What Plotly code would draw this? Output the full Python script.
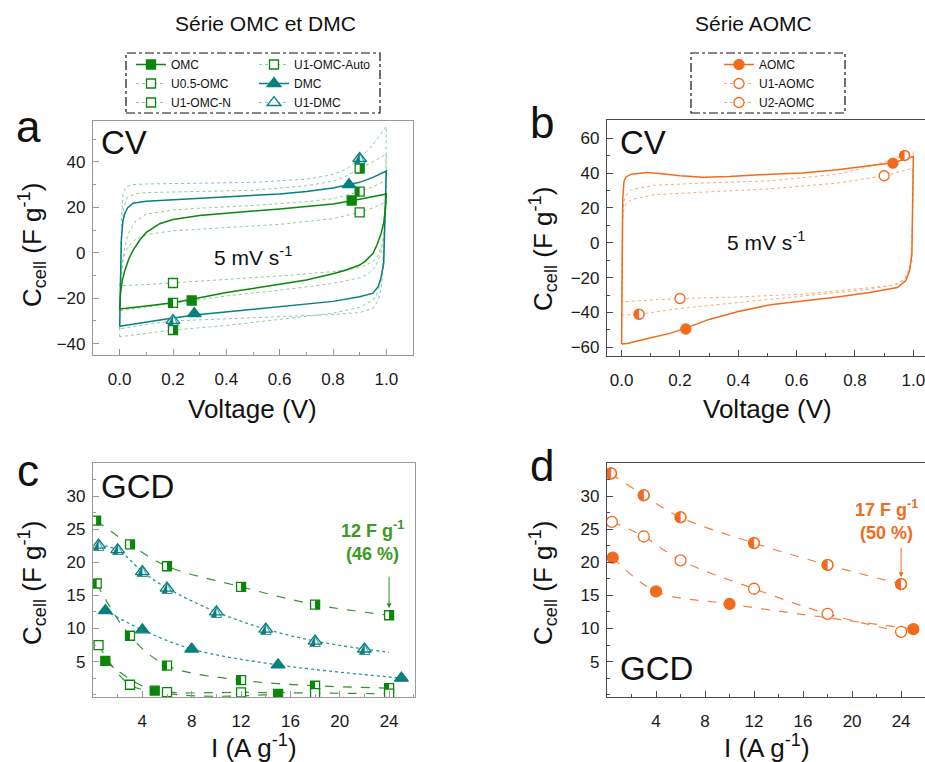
import plotly.graph_objects as go

W, H = 925, 762

# ---------------- Panel a : CV, OMC / DMC series (V vs F g-1) ----------------
OMC_UP_V = [0, 0.003, 0.01, 0.02, 0.035, 0.05, 0.075, 0.1, 0.15, 0.2, 0.3, 0.4, 0.5, 0.6, 0.7, 0.8, 0.9, 1.0]
OMC_UP_C = [-24.8, -18.0, -12.0, -7.6, -2.5, 1.1, 5.5, 9.0, 12.8, 14.6, 16.4, 17.5, 18.4, 19.3, 20.3, 21.5, 23.6, 25.9]
OMC_DN_V = [1.0, 0.997, 0.99, 0.98, 0.965, 0.95, 0.92, 0.9, 0.85, 0.8, 0.7, 0.6, 0.5, 0.4, 0.3, 0.2, 0.1, 0.0]
OMC_DN_C = [25.9, 20.0, 13.0, 8.4, 3.5, -0.3, -3.8, -5.4, -7.6, -9.2, -12.0, -13.9, -15.6, -17.5, -19.8, -22.0, -23.4, -24.8]

DMC_UP_V = [0, 0.002, 0.006, 0.012, 0.02, 0.03, 0.05, 0.1, 0.2, 0.3, 0.4, 0.5, 0.6, 0.7, 0.8, 0.9, 0.95, 1.0]
DMC_UP_C = [-32.3, -15.0, 5.0, 14.0, 17.5, 19.8, 21.8, 22.7, 23.3, 23.8, 24.4, 25.1, 25.9, 27.0, 28.5, 31.0, 33.2, 36.0]
DMC_DN_V = [1.0, 0.998, 0.995, 0.99, 0.98, 0.97, 0.95, 0.9, 0.8, 0.7, 0.6, 0.5, 0.4, 0.3, 0.2, 0.1, 0.0]
DMC_DN_C = [36.0, 25.0, 10.0, -4.7, -11.0, -14.8, -17.8, -19.4, -21.4, -22.5, -23.6, -24.8, -26.0, -27.2, -28.7, -30.5, -32.3]

U1DMC_UP_V = [0, 0.003, 0.007, 0.0125, 0.025, 0.05, 0.1, 0.3, 0.5, 0.7, 0.8, 0.85, 0.9, 0.95, 1.0]
U1DMC_UP_C = [-33.5, -10.0, 15.0, 26.0, 29.0, 30.0, 30.3, 30.6, 31.0, 32.4, 34.4, 36.8, 41.5, 47.5, 55.7]
U1DMC_DN_V = [1.0, 0.998, 0.995, 0.99, 0.98, 0.97, 0.95, 0.9, 0.8, 0.6, 0.4, 0.2, 0.1, 0.0]
U1DMC_DN_C = [55.7, 35.0, 15.0, -5.0, -16.0, -21.0, -24.5, -26.3, -27.2, -28.2, -29.0, -30.0, -31.5, -33.5]

AUTO_UP_V = [0, 0.003, 0.007, 0.015, 0.03, 0.06, 0.1, 0.3, 0.5, 0.7, 0.8, 0.85, 0.9, 0.95, 1.0]
AUTO_UP_C = [-37.0, -12.0, 8.0, 20.0, 24.5, 26.0, 26.5, 27.0, 27.5, 29.5, 31.5, 33.8, 37.1, 40.0, 43.4]
AUTO_DN_V = [1.0, 0.997, 0.993, 0.985, 0.97, 0.95, 0.9, 0.8, 0.6, 0.4, 0.2, 0.1, 0.0]
AUTO_DN_C = [43.4, 25.0, 8.0, -8.0, -17.0, -21.0, -24.0, -26.6, -29.4, -32.0, -34.0, -35.5, -37.0]

U05_UP_V = [0, 0.005, 0.015, 0.03, 0.06, 0.1, 0.2, 0.3, 0.5, 0.7, 0.8, 0.9, 0.95, 1.0]
U05_UP_C = [-25.5, -12.0, 0.0, 8.0, 14.0, 17.0, 18.8, 19.6, 20.8, 22.5, 23.8, 26.9, 29.0, 32.0]
U05_DN_V = [1.0, 0.997, 0.99, 0.98, 0.96, 0.93, 0.9, 0.8, 0.6, 0.4, 0.2, 0.1, 0.0]
U05_DN_C = [32.0, 20.0, 8.0, 0.0, -6.0, -9.5, -11.0, -13.5, -16.5, -19.0, -22.1, -23.8, -25.5]

N_UP_V = [0, 0.005, 0.015, 0.03, 0.06, 0.1, 0.2, 0.4, 0.6, 0.8, 0.9, 0.95, 1.0]
N_UP_C = [-14.5, -8.0, -2.0, 2.5, 6.0, 8.0, 9.7, 11.0, 12.5, 15.0, 17.8, 19.8, 22.5]
N_DN_V = [1.0, 0.995, 0.985, 0.97, 0.95, 0.9, 0.8, 0.6, 0.4, 0.2, 0.1, 0.0]
N_DN_C = [22.5, 12.0, 4.0, -1.0, -4.0, -6.5, -8.3, -10.2, -11.8, -13.5, -14.0, -14.5]

# symbol positions on the CV curves (panel a)
OMC_MK_V, OMC_MK_C = [0.87, 0.27], [23.0, -21.0]
U05_MK_V, U05_MK_C = [0.9, 0.2], [26.9, -22.1]
AUTO_MK_V, AUTO_MK_C = [0.9, 0.2], [37.1, -34.0]
N_MK_V, N_MK_C = [0.9, 0.2], [17.8, -13.3]
DMC_MK_V, DMC_MK_C = [0.86, 0.28], [30.0, -26.8]
U1DMC_MK_V, U1DMC_MK_C = [0.9, 0.2], [41.5, -29.8]

# ---------------- Panel b : CV, AOMC series ----------------
AOMC_UP_V = [0, 0.001, 0.002, 0.004, 0.008, 0.015, 0.034, 0.086, 0.13, 0.2, 0.28, 0.37, 0.51, 0.62, 0.74, 0.85, 0.93, 1.0]
AOMC_UP_C = [-58.1, -30.0, 0.0, 25.0, 35.0, 37.8, 39.4, 40.3, 39.8, 38.5, 37.7, 38.0, 39.4, 40.0, 41.9, 44.4, 45.9, 49.5]
AOMC_DN_V = [1.0, 0.999, 0.998, 0.995, 0.987, 0.973, 0.945, 0.85, 0.74, 0.62, 0.51, 0.4, 0.3, 0.22, 0.166, 0.1, 0.05, 0.02, 0.0]
AOMC_DN_C = [49.5, 30.0, 10.0, -6.7, -16.2, -21.9, -25.7, -28.6, -31.1, -33.4, -35.6, -39.5, -44.0, -49.0, -52.0, -54.5, -56.5, -57.8, -58.1]

U1A_UP_V = [0, 0.001, 0.003, 0.008, 0.02, 0.034, 0.11, 0.28, 0.51, 0.74, 0.85, 0.97, 1.0]
U1A_UP_C = [-41.5, -10.0, 15.0, 24.0, 28.5, 30.5, 33.0, 34.3, 35.6, 39.4, 43.8, 50.1, 52.4]
U1A_DN_V = [1.0, 0.999, 0.997, 0.995, 0.98, 0.945, 0.85, 0.62, 0.4, 0.2, 0.06, 0.0]
U1A_DN_C = [52.4, 30.0, 5.0, -10.5, -20.0, -23.8, -26.7, -30.5, -34.3, -37.7, -41.0, -41.5]

U2A_UP_V = [0, 0.001, 0.003, 0.006, 0.015, 0.034, 0.11, 0.28, 0.51, 0.74, 0.9, 1.0]
U2A_UP_C = [-33.9, -10.0, 10.0, 18.0, 22.5, 24.8, 27.6, 29.1, 31.0, 34.3, 38.5, 42.8]
U2A_DN_V = [1.0, 0.998, 0.995, 0.99, 0.97, 0.93, 0.85, 0.62, 0.4, 0.2, 0.05, 0.0]
U2A_DN_C = [42.8, 20.0, 0.0, -13.0, -21.0, -24.5, -25.7, -29.5, -31.1, -32.0, -33.4, -33.9]

AOMC_MK_V, AOMC_MK_C = [0.93, 0.22], [45.7, -49.5]
U1A_MK_V, U1A_MK_C = [0.97, 0.06], [50.1, -41.0]
U2A_MK_V, U2A_MK_C = [0.9, 0.2], [38.5, -32.0]

# ---------------- Panel c : GCD, OMC / DMC series (A g-1 vs F g-1) ----------------
AUTO_GCD_I, AUTO_GCD_C = [0.25, 3, 6, 12, 18, 24], [26.3, 22.7, 19.4, 16.3, 13.6, 12.0]
U1DMC_GCD_I, U1DMC_GCD_C = [0.45, 2, 4, 6, 10, 14, 18, 22], [22.6, 21.9, 18.6, 16.1, 12.5, 9.9, 8.1, 6.9]
U1DMC_FIT_I, U1DMC_FIT_C = [22, 24], [6.9, 6.4]
U05_GCD_I, U05_GCD_C = [0.3, 3, 6, 12, 18, 24], [16.8, 8.9, 4.4, 2.2, 1.35, 1.0]
DMC_GCD_I, DMC_GCD_C = [1, 4, 8, 15, 25], [12.7, 9.8, 6.9, 4.5, 2.5]
N_GCD_I, N_GCD_C = [0.45, 3, 6, 12, 18, 24], [7.5, 1.5, 0.4, 0.35, 0.25, 0.15]
OMC_GCD_I, OMC_GCD_C = [1, 5, 15], [5.1, 0.6, 0.1]

# ---------------- Panel d : GCD, AOMC series ----------------
U1A_GCD_I, U1A_GCD_C = [0.33, 3, 6, 12, 18, 24], [33.4, 30.1, 26.8, 22.9, 19.6, 16.7]
U2A_GCD_I, U2A_GCD_C = [0.4, 3, 6, 12, 18, 24], [26.1, 23.9, 20.3, 16.0, 12.2, 9.5]
AOMC_GCD_I, AOMC_GCD_C = [0.47, 4, 10, 25], [20.7, 15.6, 13.7, 9.9]

V_TICKS = [0.0, 0.2, 0.4, 0.6, 0.8, 1.0]
I_TICKS = [4, 8, 12, 16, 20, 24]
GCD_C_TICKS = [5, 10, 15, 20, 25, 30]

# ---------------- styles ----------------
FONT = "Liberation Sans, Arial, sans-serif"
GREEN = "#0b860b"
GREEN_L = "#8fcc8f"
TEAL = "#07807f"
TEAL_L = "#86c2c2"
ORANGE = "#f26b1d"
ORANGE_L = "#f6ab7d"
GREEN_D = "#2f942f"
TEAL_D = "#2b9595"
ORANGE_D = "#f1823f"

fig = go.Figure()


def gapped(vals):
    out = []
    for i, v in enumerate(vals):
        if i:
            out.append(None)
        out.append(v)
    return out


def cv_line(up_v, up_c, dn_v, dn_c, color, width, dash, xa, ya):
    fig.add_trace(go.Scatter(x=up_v + dn_v, y=up_c + dn_c, mode="lines",
                             line=dict(color=color, width=width, dash=dash),
                             xaxis=xa, yaxis=ya, showlegend=False, hoverinfo="skip"))


def legend_markers(name, xs, ys, symbol, mcolor, fill, size, lcolor, lwidth, dash, xa, ya, legend):
    fig.add_trace(go.Scatter(x=gapped(xs), y=gapped(ys), mode="lines+markers", name=name,
                             line=dict(color=lcolor, width=lwidth, dash=dash),
                             marker=dict(symbol=symbol, size=size, color=fill,
                                         line=dict(color=mcolor, width=1.3)),
                             xaxis=xa, yaxis=ya, legend=legend, hoverinfo="skip"))


def markers(xs, ys, symbol, mcolor, fill, size, xa, ya, lw=1.3):
    fig.add_trace(go.Scatter(x=xs, y=ys, mode="markers",
                             marker=dict(symbol=symbol, size=size, color=fill,
                                         line=dict(color=mcolor, width=lw)),
                             xaxis=xa, yaxis=ya, showlegend=False, hoverinfo="skip"))


def half_square(xs, ys, color, size, side, xa, ya):
    # vertical bar covering one half of the square symbol
    fig.add_trace(go.Scatter(x=xs, y=ys, mode="markers",
                             marker=dict(symbol="line-ew", size=size / 1.4,
                                         angle=90 if side == "left" else -90,
                                         standoff=size / 4,
                                         line=dict(color=color, width=size / 2)),
                             xaxis=xa, yaxis=ya, showlegend=False, hoverinfo="skip"))


def glyph(xs, ys, char, color, size, xa, ya):
    fig.add_trace(go.Scatter(x=xs, y=ys, mode="text", text=[char] * len(xs),
                             textposition="middle center",
                             textfont=dict(family="DejaVu Sans", size=size, color=color),
                             xaxis=xa, yaxis=ya, showlegend=False, hoverinfo="skip"))


def gcd(xs, ys, color, dash, width, xa, ya, shape="spline"):
    fig.add_trace(go.Scatter(x=xs, y=ys, mode="lines", line=dict(color=color, width=width, dash=dash, shape=shape),
                             xaxis=xa, yaxis=ya, showlegend=False, hoverinfo="skip"))


# ===== panel a =====
cv_line(U1DMC_UP_V, U1DMC_UP_C, U1DMC_DN_V, U1DMC_DN_C, TEAL_L, 1, "dot", "x", "y")
cv_line(AUTO_UP_V, AUTO_UP_C, AUTO_DN_V, AUTO_DN_C, GREEN_L, 1, "dot", "x", "y")
cv_line(U05_UP_V, U05_UP_C, U05_DN_V, U05_DN_C, GREEN_L, 1, "dot", "x", "y")
cv_line(N_UP_V, N_UP_C, N_DN_V, N_DN_C, GREEN_L, 1, "dot", "x", "y")
cv_line(DMC_UP_V, DMC_UP_C, DMC_DN_V, DMC_DN_C, TEAL, 1.5, "solid", "x", "y")
cv_line(OMC_UP_V, OMC_UP_C, OMC_DN_V, OMC_DN_C, GREEN, 1.5, "solid", "x", "y")

legend_markers("OMC", OMC_MK_V, OMC_MK_C, "square", GREEN, GREEN, 9, GREEN, 1.5, "solid", "x", "y", "legend")
legend_markers("U0.5-OMC", U05_MK_V, U05_MK_C, "square", GREEN, "white", 9, GREEN_L, 1, "dot", "x", "y", "legend")
half_square(U05_MK_V, U05_MK_C, GREEN, 9, "left", "x", "y")
legend_markers("U1-OMC-N", N_MK_V, N_MK_C, "square", GREEN, "white", 9, GREEN_L, 1, "dot", "x", "y", "legend")
legend_markers("U1-OMC-Auto", AUTO_MK_V, AUTO_MK_C, "square", GREEN, "white", 9, GREEN_L, 1, "dot", "x", "y", "legend2")
half_square(AUTO_MK_V, AUTO_MK_C, GREEN, 9, "right", "x", "y")
legend_markers("DMC", DMC_MK_V, DMC_MK_C, "triangle-up", TEAL, TEAL, 12, TEAL, 1.5, "solid", "x", "y", "legend2")
legend_markers("U1-DMC", U1DMC_MK_V, U1DMC_MK_C, "triangle-up", TEAL, "white", 12, TEAL_L, 1, "dot", "x", "y", "legend2")
glyph(U1DMC_MK_V, U1DMC_MK_C, "\u25ed", TEAL, 15, "x", "y")

# ===== panel b =====
cv_line(U1A_UP_V, U1A_UP_C, U1A_DN_V, U1A_DN_C, ORANGE_L, 1, "dot", "x2", "y2")
cv_line(U2A_UP_V, U2A_UP_C, U2A_DN_V, U2A_DN_C, ORANGE_L, 1, "dot", "x2", "y2")
cv_line(AOMC_UP_V, AOMC_UP_C, AOMC_DN_V, AOMC_DN_C, ORANGE, 1.5, "solid", "x2", "y2")
legend_markers("AOMC", AOMC_MK_V, AOMC_MK_C, "circle", ORANGE, ORANGE, 10, ORANGE, 1.5, "solid", "x2", "y2", "legend3")
legend_markers("U1-AOMC", U1A_MK_V, U1A_MK_C, "circle", ORANGE, "white", 10, ORANGE_L, 1, "dot", "x2", "y2", "legend3")
glyph(U1A_MK_V, U1A_MK_C, "\u25d0", ORANGE, 14, "x2", "y2")
legend_markers("U2-AOMC", U2A_MK_V, U2A_MK_C, "circle", ORANGE, "white", 10, ORANGE_L, 1, "dot", "x2", "y2", "legend3")

# ===== panel c =====
gcd(AUTO_GCD_I, AUTO_GCD_C, GREEN_D, "dash", 1.2, "x3", "y3")
gcd(U1DMC_GCD_I, U1DMC_GCD_C, TEAL_D, "dot", 1.3, "x3", "y3")
gcd(U1DMC_FIT_I, U1DMC_FIT_C, TEAL_D, "dot", 1.3, "x3", "y3")
gcd(U05_GCD_I, U05_GCD_C, GREEN_D, "dash", 1.2, "x3", "y3")
gcd(DMC_GCD_I, DMC_GCD_C, TEAL_D, "dot", 1.3, "x3", "y3")
gcd(N_GCD_I, N_GCD_C, GREEN_D, "dash", 1.2, "x3", "y3")
gcd(OMC_GCD_I, OMC_GCD_C, GREEN_D, "dash", 1.2, "x3", "y3")

markers(AUTO_GCD_I, AUTO_GCD_C, "square", GREEN, "white", 9, "x3", "y3")
half_square(AUTO_GCD_I, AUTO_GCD_C, GREEN, 9, "right", "x3", "y3")
markers(U05_GCD_I, U05_GCD_C, "square", GREEN, "white", 9, "x3", "y3")
half_square(U05_GCD_I, U05_GCD_C, GREEN, 9, "left", "x3", "y3")
markers(N_GCD_I, N_GCD_C, "square", GREEN, "white", 9, "x3", "y3")
markers(OMC_GCD_I, OMC_GCD_C, "square", GREEN, GREEN, 9, "x3", "y3")
markers(U1DMC_GCD_I, U1DMC_GCD_C, "triangle-up", TEAL, "white", 12, "x3", "y3")
glyph(U1DMC_GCD_I, U1DMC_GCD_C, "\u25ed", TEAL, 15, "x3", "y3")
markers(DMC_GCD_I, DMC_GCD_C, "triangle-up", TEAL, TEAL, 12, "x3", "y3")

# ===== panel d =====
gcd(U1A_GCD_I, U1A_GCD_C, ORANGE_D, "dash", 1.2, "x4", "y4")
gcd(U2A_GCD_I, U2A_GCD_C, ORANGE_D, "dash", 1.2, "x4", "y4")
gcd(AOMC_GCD_I, AOMC_GCD_C, ORANGE_D, "dash", 1.2, "x4", "y4")
markers(U1A_GCD_I, U1A_GCD_C, "circle", ORANGE, "white", 11, "x4", "y4")
glyph(U1A_GCD_I, U1A_GCD_C, "\u25d0", ORANGE, 15, "x4", "y4")
markers(U2A_GCD_I, U2A_GCD_C, "circle", ORANGE, "white", 11, "x4", "y4")
markers(AOMC_GCD_I, AOMC_GCD_C, "circle", ORANGE, ORANGE, 11, "x4", "y4")


# ---------------- axes ----------------
def dom_x(p0, p1):
    return [p0 / W, p1 / W]


def dom_y(top, bot):
    return [1 - bot / H, 1 - top / H]


def axis(dom, rng, color, anchor, dtick=None, minor_dtick=None, tickvals=None, fmt=None):
    d = dict(domain=dom, range=rng, anchor=anchor, showline=True, linecolor=color, linewidth=1.2,
             mirror=True, ticks="inside", ticklen=6, tickwidth=1, tickcolor=color,
             minor=dict(ticks="inside", ticklen=3, tickwidth=1, tickcolor=color, dtick=minor_dtick, tick0=0),
             showgrid=False, zeroline=False, ticklabeloverflow="allow",
             tickfont=dict(family=FONT, size=17, color="#1a1a1a"))
    if tickvals is not None:
        d.update(tickmode="array", tickvals=tickvals)
    else:
        d.update(dtick=dtick, tick0=0)
    if fmt:
        d["tickformat"] = fmt
    return d


GRAY_A = "#9a9a9a"
GRAY_B = "#4a4a4a"

fig.update_layout(
    xaxis=axis(dom_x(93, 413), [-0.1, 1.1], GRAY_A, "y", tickvals=V_TICKS, minor_dtick=0.1, fmt=".1f"),
    yaxis=axis(dom_y(121, 355), [-45, 58], GRAY_A, "x", dtick=20, minor_dtick=10),
    xaxis2=axis(dom_x(607, 925), [-0.05, 1.04], GRAY_B, "y2", tickvals=V_TICKS, minor_dtick=0.1, fmt=".1f"),
    yaxis2=axis(dom_y(120, 356), [-65, 70.5], GRAY_B, "x2", dtick=20, minor_dtick=10),
    xaxis3=axis(dom_x(93, 415), [0, 26.1], GRAY_A, "y3", tickvals=I_TICKS, minor_dtick=2),
    yaxis3=axis(dom_y(463, 697), [-0.35, 35], GRAY_A, "x3", tickvals=GCD_C_TICKS, minor_dtick=2.5),
    xaxis4=axis(dom_x(607, 925), [0, 25.95], GRAY_B, "y4", tickvals=I_TICKS, minor_dtick=2),
    yaxis4=axis(dom_y(463, 697), [-0.35, 35], GRAY_B, "x4", tickvals=GCD_C_TICKS, minor_dtick=2.5),
)
for k in ["xaxis", "xaxis2", "xaxis3", "xaxis4"]:
    fig.layout[k].ticklabelstandoff = 8
for k in ["yaxis", "yaxis2", "yaxis3", "yaxis4"]:
    fig.layout[k].ticklabelstandoff = 3

# ---------------- legends ----------------
leg_common = dict(font=dict(family=FONT, size=12, color="#111"), bgcolor="rgba(0,0,0,0)",
                  borderwidth=0, xanchor="left", yanchor="top", tracegroupgap=0, itemwidth=30)
fig.update_layout(
    legend=dict(x=131 / W, y=1 - 50 / H, **leg_common),
    legend2=dict(x=254 / W, y=1 - 50 / H, **leg_common),
    legend3=dict(x=719 / W, y=1 - 50 / H, **leg_common),
)

shapes = [
    dict(type="rect", xref="paper", yref="paper", x0=126 / W, x1=380 / W, y0=1 - 113 / H, y1=1 - 53 / H,
         line=dict(color="#111", width=1.2, dash="dashdot")),
    dict(type="rect", xref="paper", yref="paper", x0=691 / W, x1=845 / W, y0=1 - 113 / H, y1=1 - 53 / H,
         line=dict(color="#111", width=1.2, dash="dashdot")),
]

# ---------------- text ----------------
ann = []


def txt(x, y, s, size, color="#111", bold=False, angle=0, xanchor="center", yanchor="middle"):
    if bold:
        s = "<b>" + s + "</b>"
    ann.append(dict(x=x / W, y=1 - y / H, xref="paper", yref="paper", text=s, showarrow=False,
                    font=dict(family=FONT, size=size, color=color), textangle=angle,
                    xanchor=xanchor, yanchor=yanchor))


txt(265, 24, "Série OMC et DMC", 21)
txt(753, 24, "Série AOMC", 21)
txt(28, 126, "a", 44)
txt(542, 122, "b", 44)
txt(28, 470, "c", 44)
txt(542, 466, "d", 44)
txt(99, 143, "CV", 33, xanchor="left")
txt(618, 143, "CV", 33, xanchor="left")
txt(99, 486, "GCD", 33, xanchor="left")
txt(618, 668, "GCD", 33, xanchor="left")
txt(253, 256, "5 mV s<sup>-1</sup>", 21)
txt(766, 241, "5 mV s<sup>-1</sup>", 21)
txt(253, 409, "Voltage (V)", 26)
txt(767, 409, "Voltage (V)", 26)
txt(254, 746, "I (A g<sup>-1</sup>)", 26)
txt(767, 746, "I (A g<sup>-1</sup>)", 26)
for (x, y) in [(32, 245), (543, 249), (32, 583), (543, 583)]:
    txt(x, y, "C<sub>cell</sub> (F g<sup>-1</sup>)", 26, angle=-90)

txt(372, 541, "12 F g<sup>-1</sup><br>(46 %)", 18, color="#3a9a22", bold=True)
txt(886, 520, "17 F g<sup>-1</sup><br>(50 %)", 18, color=ORANGE, bold=True)

# arrows pointing at the last retained point
ann.append(dict(x=AUTO_GCD_I[-1], y=AUTO_GCD_C[-1], xref="x3", yref="y3", ax=0, ay=-40, text="",
                showarrow=True, arrowhead=2, arrowsize=1, arrowwidth=1, arrowcolor="#2f8a2f", standoff=7))
ann.append(dict(x=U1A_GCD_I[-1], y=U1A_GCD_C[-1], xref="x4", yref="y4", ax=0, ay=-38, text="",
                showarrow=True, arrowhead=2, arrowsize=1, arrowwidth=1, arrowcolor=ORANGE, standoff=7))

fig.update_layout(
    width=W, height=H, margin=dict(l=0, r=0, t=0, b=0),
    paper_bgcolor="white", plot_bgcolor="white",
    annotations=ann, shapes=shapes,
    font=dict(family=FONT),
)

fig.write_html("out.html", config={"displayModeBar": False},
               post_script="document.body.style.margin='0';document.body.style.overflow='hidden';")
